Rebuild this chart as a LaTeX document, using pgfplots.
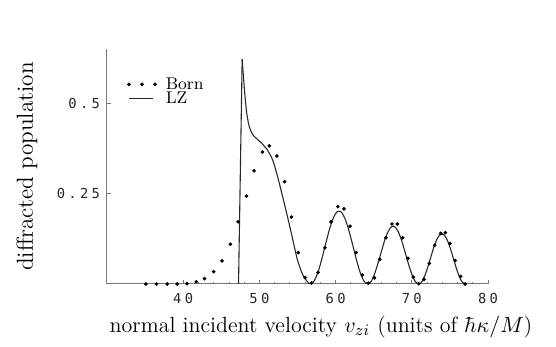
\documentclass[border=0pt]{standalone}
\usepackage{fontspec}
\usepackage{pgfplots}
\pgfplotsset{compat=1.18}
\newfontfamily\tickfont[LetterSpace=24]{DejaVu Sans Mono}
\definecolor{axgray}{RGB}{120,120,120}
\definecolor{lzgray}{RGB}{40,40,40}

\begin{document}
\begin{tikzpicture}
\begin{axis}[
    at={(0,0)}, anchor=south west,
    width=190.5pt, height=117.5pt,
    scale only axis,
    xmin=30, xmax=80, ymin=0, ymax=0.65,
    axis lines=left,
    axis line style={axgray, line width=0.5pt, -},
    xtick={40,50,60,70,80},
    xticklabels={40,50,60,70,80},
    ytick={0.25,0.5},
    yticklabels={0.25,0.5},
    minor x tick num=4,
    tick align=inside,
    major tick length=2pt,
    minor tick length=1pt,
    tick style={axgray, line width=0.4pt},
    ticklabel style={font=\tickfont\fontsize{6.9}{7}\selectfont, text=black!85},
    xticklabel style={yshift=-1pt},
    xlabel={normal incident velocity $v_{zi}$ (units of $\hbar\kappa/M$)},
    ylabel={diffracted population},
    every axis x label/.style={at={(axis description cs:0.5,0)}, anchor=center,
        yshift=-21.5pt, xshift=11.75pt, font=\fontsize{11}{13}\selectfont},
    every axis y label/.style={at={(axis description cs:-0.21,0.5)}, rotate=90,
        anchor=center, font=\fontsize{11.6}{13}\selectfont},
    legend style={draw=none, fill=none, inner sep=0pt, at={(axis description cs:0.052,0.82)}, anchor=west,
        font=\fontsize{8.5}{8}\selectfont, row sep=0pt, column sep=4pt,
        nodes={inner sep=0.5pt, text height=5.8pt, text depth=0.2pt}},
    legend cell align=left,
]
% Born approximation
\addplot[only marks, mark=*, mark size=0.7pt, black,
    legend image code/.code={
        \fill (0pt,0pt) circle (0.7pt);
        \fill (6.5pt,0pt) circle (0.7pt);
        \fill (13pt,0pt) circle (0.7pt);}]
coordinates {
    (35.1,0) (36.5,0) (37.9,0) (39.2,0) (40.5,0.001) (41.7,0.006) (42.8,0.015)
    (44.0,0.034) (45.1,0.064) (46.2,0.110) (47.2,0.172) (48.3,0.243) (49.3,0.313)
    (50.4,0.365) (51.3,0.382) (52.3,0.354) (53.3,0.283) (54.2,0.185) (55.1,0.087)
    (56.0,0.018) (56.85,0.003) (57.7,0.032) (58.6,0.100) (59.4,0.172) (60.3,0.214)
    (61.1,0.208) (61.9,0.160) (62.7,0.087) (63.5,0.025) (64.3,0.002) (65.1,0.017)
    (65.8,0.068) (66.6,0.128) (67.4,0.166) (68.1,0.166) (68.8,0.128) (69.5,0.071)
    (70.2,0.019) (70.9,0.001) (71.6,0.013) (72.3,0.057) (73.0,0.107) (73.8,0.140)
    (74.4,0.142) (75.0,0.112) (75.7,0.065) (76.4,0.021) (77.0,0.0)
};
\addlegendentry{Born}
% Landau-Zener, threshold rise
\addplot[lzgray, line width=0.55pt,
    legend image code/.code={\draw[lzgray, line width=0.55pt] (0pt,0pt) -- (12pt,0pt); \path (13pt,0pt);}]
coordinates {(47.26,0) (47.74,0.622)};
\addlegendentry{LZ}
% Landau-Zener, decay and oscillations
\addplot[lzgray, line width=0.55pt, smooth, tension=0.4, forget plot]
coordinates {
    (47.74,0.622) (48.05,0.534) (48.35,0.470) (48.7,0.433) (49.13,0.413)
    (49.8,0.399) (50.45,0.386) (51.1,0.369) (51.76,0.342) (52.4,0.296)
    (53.07,0.240) (53.7,0.185) (54.4,0.121) (55.0,0.066) (55.7,0.025)
    (56.35,0.005) (56.7,0)
    (57.2,0.0087) (57.7,0.0334) (58.2,0.0698) (58.7,0.1116) (59.2,0.1515)
    (59.7,0.1827) (60.2,0.1998) (60.7,0.1998) (61.2,0.1827) (61.7,0.1515)
    (62.2,0.1116) (62.7,0.0698) (63.2,0.0334) (63.7,0.0087) (64.2,0)
    (64.65,0.0069) (65.09,0.0265) (65.54,0.0553) (65.99,0.0884) (66.43,0.1200)
    (66.88,0.1447) (67.33,0.1583) (67.77,0.1583) (68.22,0.1447) (68.67,0.1200)
    (69.11,0.0884) (69.56,0.0553) (70.01,0.0265) (70.45,0.0069) (70.9,0)
    (71.31,0.0060) (71.71,0.0230) (72.12,0.0480) (72.53,0.0768) (72.93,0.1043)
    (73.34,0.1257) (73.75,0.1375) (74.15,0.1375) (74.56,0.1257) (74.97,0.1043)
    (75.37,0.0768) (75.78,0.0480) (76.19,0.0230) (76.59,0.0060) (77.0,0)
};
\end{axis}
\pgfresetboundingbox
\path[use as bounding box] (-53.5pt,-31.5pt) rectangle (224.5pt,142pt);
\end{tikzpicture}
\end{document}
